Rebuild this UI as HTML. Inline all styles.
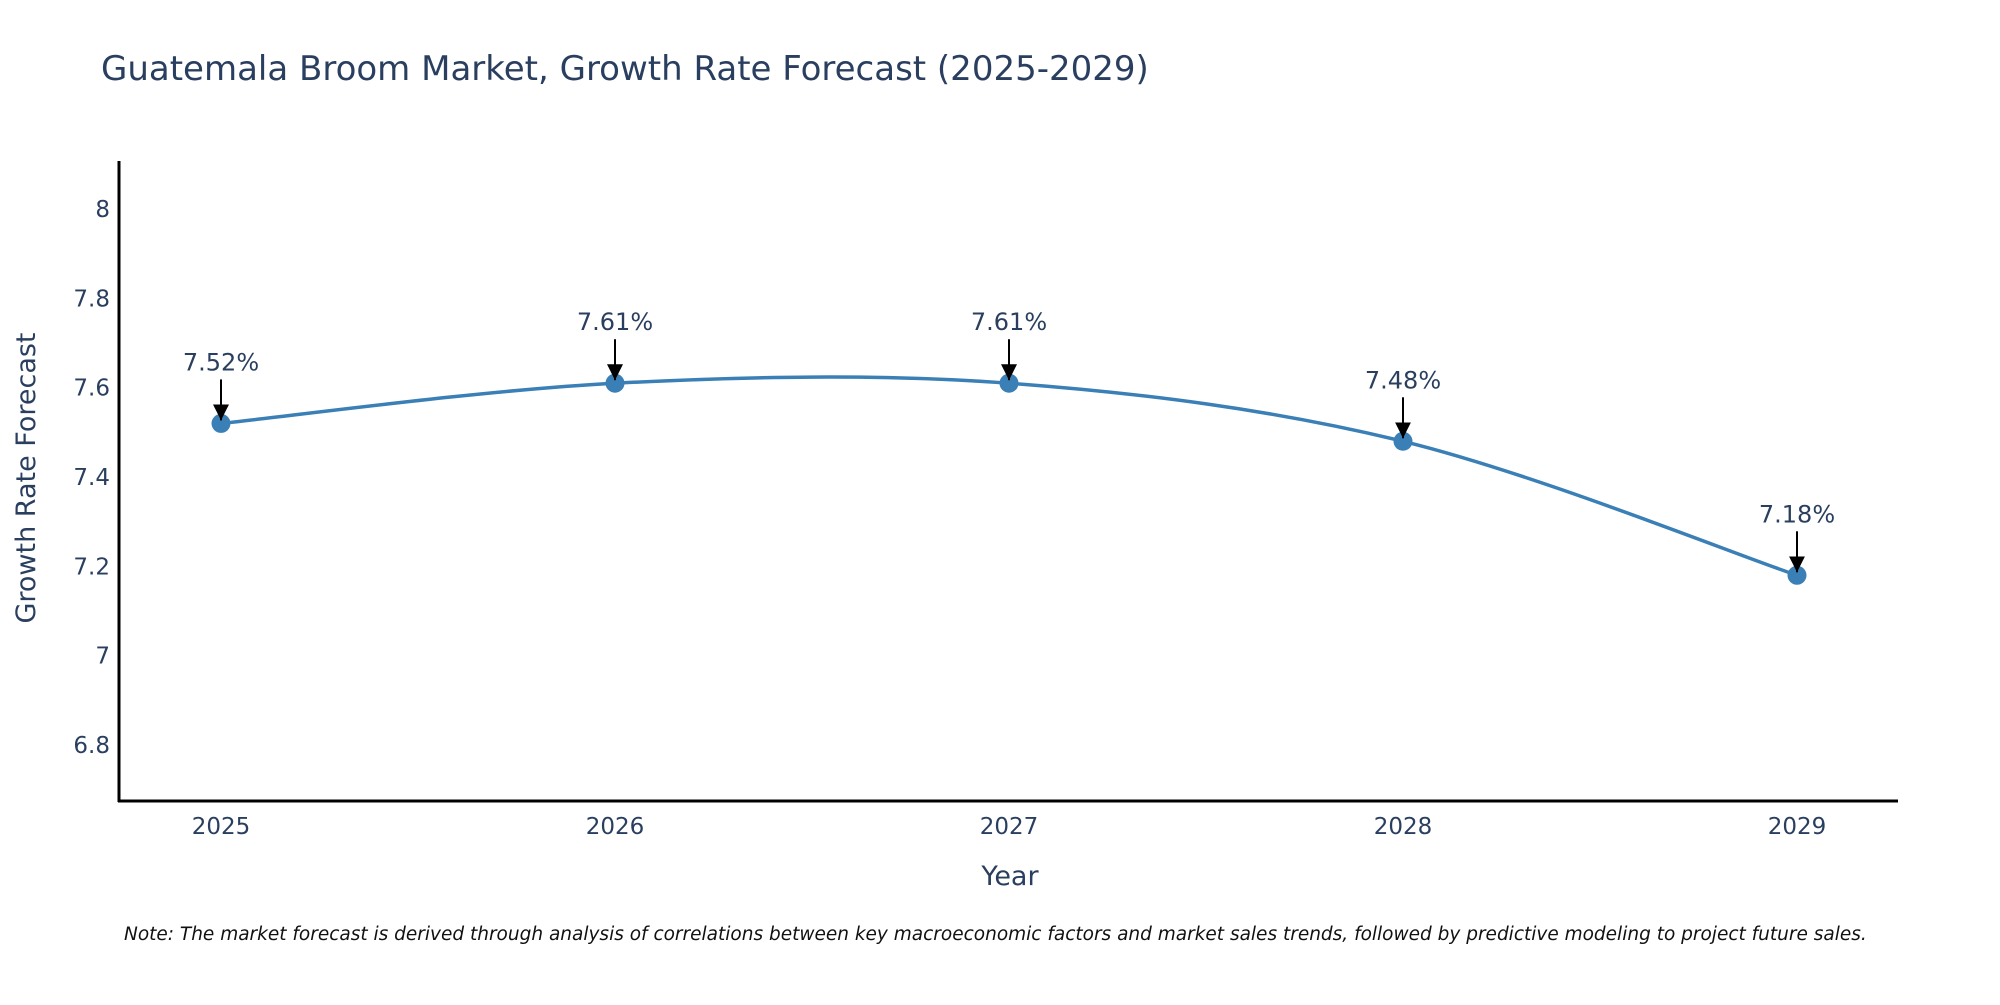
<!DOCTYPE html>
<html><head><meta charset="utf-8"><style>
body{margin:0;background:#fff;}
svg text{font-family:"DejaVu Sans","Liberation Sans",sans-serif;fill:#2a3f5f;}
</style></head><body>
<svg width="2000" height="1000" xmlns="http://www.w3.org/2000/svg">
<text x="101" y="80" font-size="34">Guatemala Broom Market, Growth Rate Forecast (2025-2029)</text>
<g id="plot"></g>
<text x="1010" y="885" font-size="27" text-anchor="middle">Year</text>
<text transform="translate(35,478) rotate(-90)" font-size="27" text-anchor="middle">Growth Rate Forecast</text>
<text x="124" y="940" font-size="18.5" font-style="italic" style="fill:#111">Note: The market forecast is derived through analysis of correlations between key macroeconomic factors and market sales trends, followed by predictive modeling to project future sales.</text>
</svg>
<script>
const years=[2025,2026,2027,2028,2029];
const values=[7.52,7.61,7.61,7.48,7.18];
const labels=["7.52%","7.61%","7.61%","7.48%","7.18%"];
const yTicks=[6.8,7,7.2,7.4,7.6,7.8,8];
const yTickLabels=["6.8","7","7.2","7.4","7.6","7.8","8"];
const NS="http://www.w3.org/2000/svg";
const g=document.getElementById('plot');
const x=v=>221+(v-2025)*394;
const y=v=>209+(8-v)*446.7;
function mk(t,a){const e=document.createElementNS(NS,t);for(const k in a)e.setAttribute(k,a[k]);g.appendChild(e);return e;}
const defs=mk('defs',{});
defs.innerHTML='<marker id="ah" viewBox="0 0 10 10" refX="10" refY="5" markerWidth="8" markerHeight="8" markerUnits="userSpaceOnUse" orient="auto"><path d="M0,0L10,5L0,10z" fill="#000"/></marker>';
defs.firstChild.setAttribute('markerWidth','16');
defs.firstChild.setAttribute('markerHeight','16');
yTicks.forEach((t,i)=>{const e=mk('text',{x:110,y:y(t)+8,'font-size':23,'text-anchor':'end'});e.textContent=yTickLabels[i];

});
years.forEach(yr=>{const e=mk('text',{x:x(yr),y:834,'font-size':23,'text-anchor':'middle'});e.textContent=yr;

});
const ya=mk('line',{x1:119,y1:161,x2:119,y2:802,stroke:'#000','stroke-width':3});


const xa=mk('line',{x1:118,y1:801,x2:1898,y2:801,stroke:'#000','stroke-width':3});


const P=years.map((yr,i)=>[x(yr),y(values[i])]);
let d='M'+P[0][0]+','+P[0][1];
for(let i=0;i<P.length-1;i++){const p0=P[Math.max(0,i-1)],p1=P[i],p2=P[i+1],p3=P[Math.min(P.length-1,i+2)];const s=6;
d+=' C'+(p1[0]+(p2[0]-p0[0])/s)+','+(p1[1]+(p2[1]-p0[1])/s)+' '+(p2[0]-(p3[0]-p1[0])/s)+','+(p2[1]-(p3[1]-p1[1])/s)+' '+p2[0]+','+p2[1];}
const ln=mk('path',{d:d,fill:'none',stroke:'#3a7fb5','stroke-width':3.5});


P.forEach((p,i)=>{const c=mk('circle',{cx:p[0],cy:p[1],r:9.5,fill:'#3a7fb5'});


const a=mk('line',{x1:p[0],y1:p[1]-44,x2:p[0],y2:p[1]-3,stroke:'#000','stroke-width':2,'marker-end':'url(#ah)'});


const t=mk('text',{x:p[0],y:p[1]-53,'font-size':24,'text-anchor':'middle'});t.textContent=labels[i];

});
</script>
</body></html>
